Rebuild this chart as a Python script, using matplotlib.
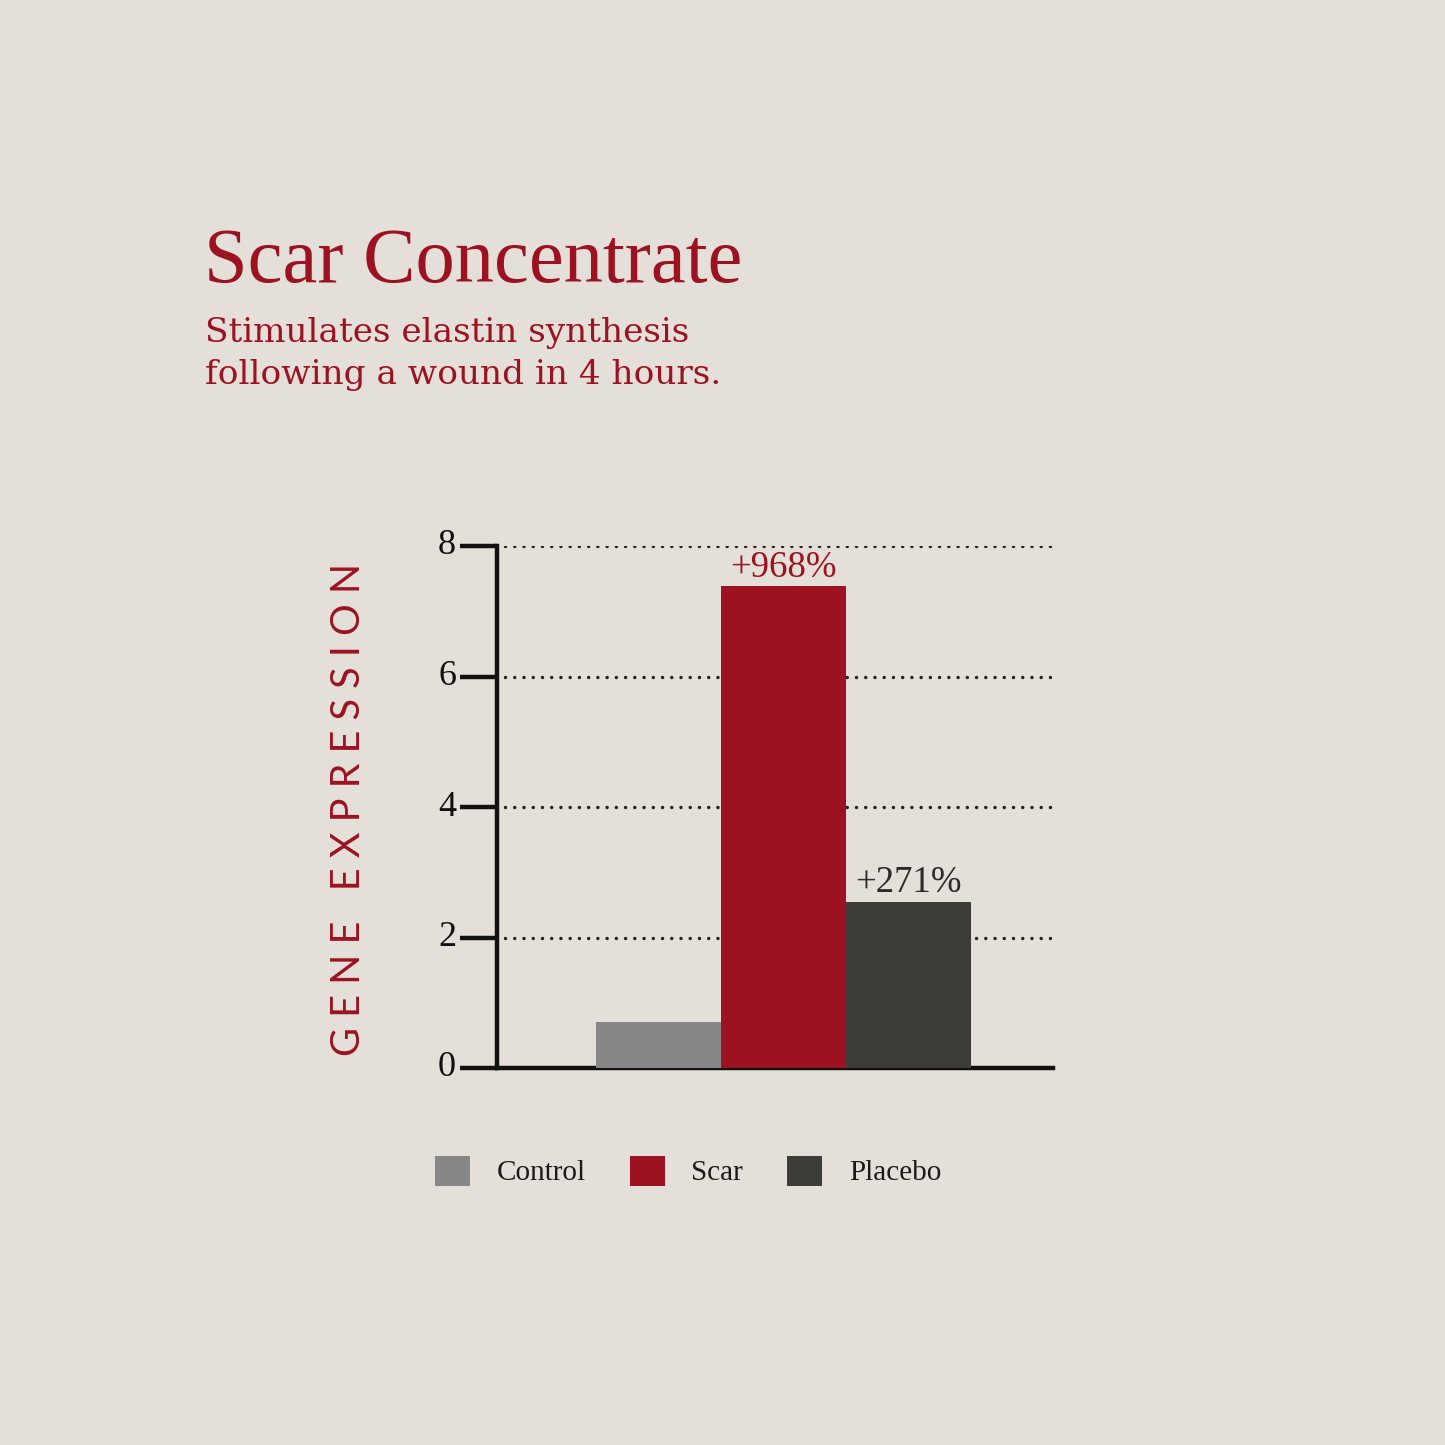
import matplotlib.pyplot as plt
from matplotlib.patches import Patch

# data
groups = ['Control', 'Scar', 'Placebo']
values = [0.70, 7.38, 2.54]
labels = {'Scar': '+968%', 'Placebo': '+271%'}
yticks = [0, 2, 4, 6, 8]

bg = '#e4dfd8'
red = '#9c1220'
colors = ['#878787', red, '#3c3d39']
label_colors = {'Scar': red, 'Placebo': '#2b2b2b'}
serif = ['Liberation Serif', 'DejaVu Serif']
slab = ['DejaVu Serif']

W = 1445
fig = plt.figure(figsize=(14.45, 14.45), dpi=100, facecolor=bg)
ax = fig.add_axes([497 / W, 1 - 1068 / W, 556 / W, 522 / W])
ax.set_facecolor('none')

x = list(range(len(groups)))
ax.bar(x, values, width=1.0, color=colors, zorder=3)
ax.set_xlim(-1.292, 3.156)
ax.set_ylim(0, 8)

for xi, g, v in zip(x, groups, values):
    if g in labels:
        ax.text(xi, v + 0.15, labels[g], ha='center', va='baseline',
                fontsize=26.5, family=serif, color=label_colors[g], zorder=4)

# dotted grid
for t in yticks[1:]:
    ax.axhline(t, xmin=0.015, xmax=1, color='#222222', lw=2.5,
               linestyle=(0, (0.01, 2.65)), dash_capstyle='round', zorder=1)

for s in ['top', 'right']:
    ax.spines[s].set_visible(False)
for s in ['left', 'bottom']:
    ax.spines[s].set_linewidth(3.2)
    ax.spines[s].set_color('#111111')
ax.spines['left'].set_capstyle('projecting')

ax.set_yticks(yticks)
ax.set_yticklabels([str(t) for t in yticks], family=serif, fontsize=26, color='#111111')
ax.tick_params(axis='y', length=26.5, width=3.2, pad=3, color='#111111')
ax.set_xticks([])
for lab in ax.get_yticklabels():
    lab.set_verticalalignment('center')

fig.text(348 / W, 1 - 809 / W, 'G E N E   E X P R E S S I O N', rotation=90,
         ha='center', va='center', fontsize=28.5, family=['Lato', 'DejaVu Sans'],
         color=red)

# title block
fig.text(204 / W, 1 - 282 / W, 'Scar Concentrate', fontsize=56.5, family=serif,
         color=red, ha='left', va='baseline')
fig.text(205 / W, 1 - 342 / W, 'Stimulates elastin synthesis', fontsize=24.7,
         family=slab, color=red, ha='left', va='baseline')
fig.text(205 / W, 1 - 384 / W, 'following a wound in 4 hours.', fontsize=24.7,
         family=slab, color=red, ha='left', va='baseline')

handles = [Patch(facecolor=c, edgecolor='none') for c in colors]
fig.legend(handles, groups, loc='center', bbox_to_anchor=(688 / W, 1 - 1171 / W),
           ncol=3, frameon=False, prop={'family': serif, 'size': 21},
           handlelength=1.2, handleheight=1.2, handletextpad=0.92,
           columnspacing=1.5, labelcolor='#1a1a1a')

fig.savefig('out.png', dpi=100, facecolor=bg)
